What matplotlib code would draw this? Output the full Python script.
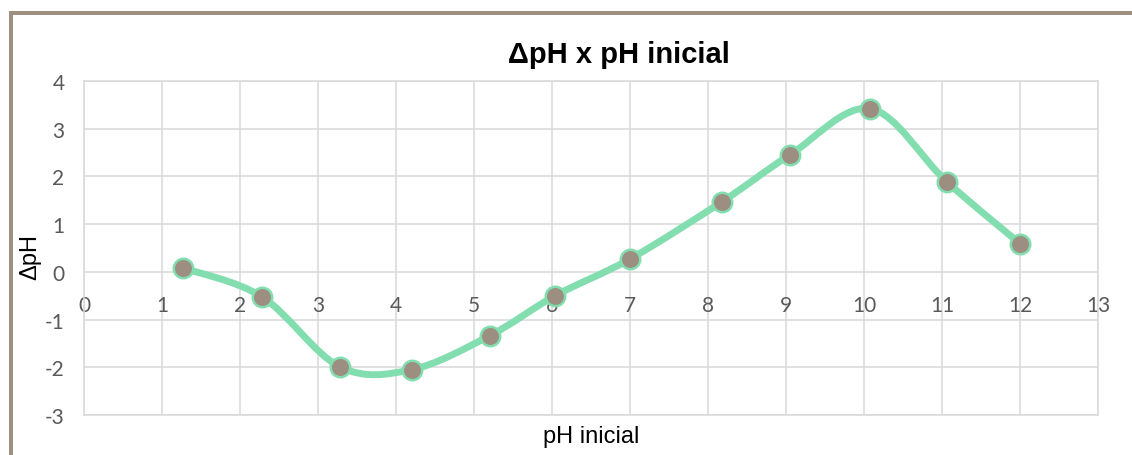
import numpy as np
import matplotlib
matplotlib.use('Agg')
import matplotlib.pyplot as plt
from matplotlib.path import Path
from matplotlib.patches import PathPatch, Rectangle

plt.rcParams['font.family'] = ['Lato', 'DejaVu Sans']
plt.rcParams['axes.unicode_minus'] = False

# data
ph_inicial = [1.27, 2.28, 3.28, 4.2, 5.2, 6.04, 7.0, 8.18, 9.05, 10.08, 11.06, 12.0]
delta_ph = [0.08, -0.52, -1.99, -2.05, -1.34, -0.5, 0.27, 1.47, 2.45, 3.42, 1.89, 0.59]
x_ticks = list(range(0, 14))
y_ticks = list(range(-3, 5))

line_col = '#82DDAF'
marker_col = '#9C8E80'
grid_col = '#D9D9D9'
text_col = '#595959'
label_font = ['Liberation Sans', 'DejaVu Sans']

fig = plt.figure(figsize=(11.32, 4.56), dpi=100)
ax = fig.add_axes([84/1132, 1 - 416/456, (1098 - 84)/1132, (416 - 82)/456])

# smooth line like excel (bezier through the points)
pts = np.column_stack([ph_inicial, delta_ph])
verts = [tuple(pts[0])]
codes = [Path.MOVETO]
n = len(pts)
for i in range(n - 1):
    p0 = pts[max(i - 1, 0)]
    p1 = pts[i]
    p2 = pts[i + 1]
    p3 = pts[min(i + 2, n - 1)]
    c1 = p1 + (p2 - p0) / 6.0
    c2 = p2 - (p3 - p1) / 6.0
    verts += [tuple(c1), tuple(c2), tuple(p2)]
    codes += [Path.CURVE4] * 3
ax.add_patch(PathPatch(Path(verts, codes), facecolor='none', edgecolor=line_col,
                       lw=5, capstyle='round', joinstyle='round', zorder=3))
ax.plot(ph_inicial, delta_ph, linestyle='none', marker='o', ms=14,
        mfc=marker_col, mec=line_col, mew=1.8, zorder=4)

ax.set_xlim(0, 13)
ax.set_ylim(-3, 4)
ax.set_xticks(x_ticks)
ax.set_yticks(y_ticks)
ax.grid(True, color=grid_col, lw=1.1)
ax.set_axisbelow(True)
for s in ['top', 'right', 'left']:
    ax.spines[s].set_color(grid_col)
    ax.spines[s].set_linewidth(1.1)
ax.spines['bottom'].set_position(('data', 0))
ax.spines['bottom'].set_visible(False)
ax.plot([0, 13], [-3, -3], color=grid_col, lw=1.1, clip_on=False, zorder=1)
ax.tick_params(axis='x', length=0, pad=17, labelsize=15, labelcolor=text_col)
ax.tick_params(axis='y', length=0, pad=14, labelsize=15, labelcolor=text_col)

fig.text(619/1132, 1 - 55/456, 'ΔpH x pH inicial', ha='center', va='center',
         fontsize=21, fontweight='bold', color='#000000', family=label_font)
fig.text(30/1132, 1 - 257/456, 'ΔpH', ha='center', va='center', rotation=90,
         fontsize=17, color='#000000', family=label_font)
fig.text(591/1132, 1 - 437/456, 'pH inicial', ha='center', va='center',
         fontsize=17, color='#000000', family=label_font)

# frame on top and left
border = '#9E9080'
fig.add_artist(Rectangle((9/1132, 0), 4/1132, 1 - 12/456, transform=fig.transFigure,
                         color=border, lw=0))
fig.add_artist(Rectangle((9/1132, 1 - 16/456), 1 - 9/1132, 4/456, transform=fig.transFigure,
                         color=border, lw=0))

fig.savefig('out.png', dpi=100)
